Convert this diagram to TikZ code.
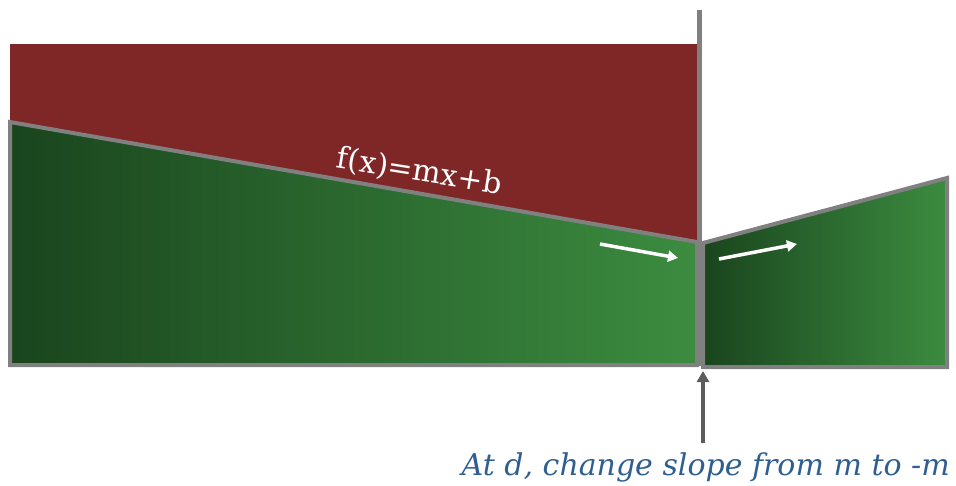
\documentclass[tikz,border=0pt]{standalone}
\usepackage{fontspec}
\setmainfont{DejaVu Serif}
\usetikzlibrary{arrows.meta}

\definecolor{slred}{HTML}{7F2626}
\definecolor{sldark}{HTML}{1A451E}
\definecolor{sllight}{HTML}{3C8C40}
\definecolor{slgray}{HTML}{808080}
\definecolor{slarrow}{HTML}{5C5C5C}
\definecolor{slblue}{HTML}{2F5F90}

\tikzset{
  sl outline/.style={draw=slgray, line width=4pt, line join=miter},
  sl green/.style={left color=sldark, right color=sllight},
  sl hint/.style={draw=white, line width=3.5pt, -{Triangle[length=10pt,width=11pt]}},
  sl pointer/.style={draw=slarrow, line width=4pt, -{Triangle[length=11pt,width=12pt]}},
  sl rule/.style={font=\fontsize{30}{34}\selectfont\itshape, text=slblue, inner sep=0pt},
  sl formula/.style={font=\fontsize{30}{34}\selectfont, text=white, inner sep=0pt},
}

\begin{document}
\begin{tikzpicture}[x=1pt, y=-1pt]
\useasboundingbox (0,0) rectangle (956,485);

% region above the line
\fill[slred] (10,44) rectangle (698,244);

% the two pieces
\shadedraw[sl green, sl outline] (10,122) -- (697,242) -- (697,365) -- (10,365) -- cycle;
\shadedraw[sl green, sl outline] (703,243) -- (947,178) -- (947,367) -- (703,367) -- cycle;

% the break at d
\draw[draw=slgray, line width=5pt] (699,10) -- (699,366);

\coordinate (d)     at (703,371);
\coordinate (dfoot) at (703,443);
\coordinate (lefttail)  at (600,244);
\coordinate (lefthead)  at (678,258);
\coordinate (righttail) at (719,259);
\coordinate (righthead) at (797,244);

\node (fx)   [sl formula, anchor=base, rotate=-9] at (418,181) {f(x)=mx+b};
\node (rule) [sl rule, anchor=base east] at (950,475) {At d, change slope from m to -m};

\draw[sl hint] (lefttail) -- (lefthead);
\draw[sl hint] (righttail) -- (righthead);
\draw[sl pointer] (dfoot) -- (d);
\end{tikzpicture}
\end{document}
